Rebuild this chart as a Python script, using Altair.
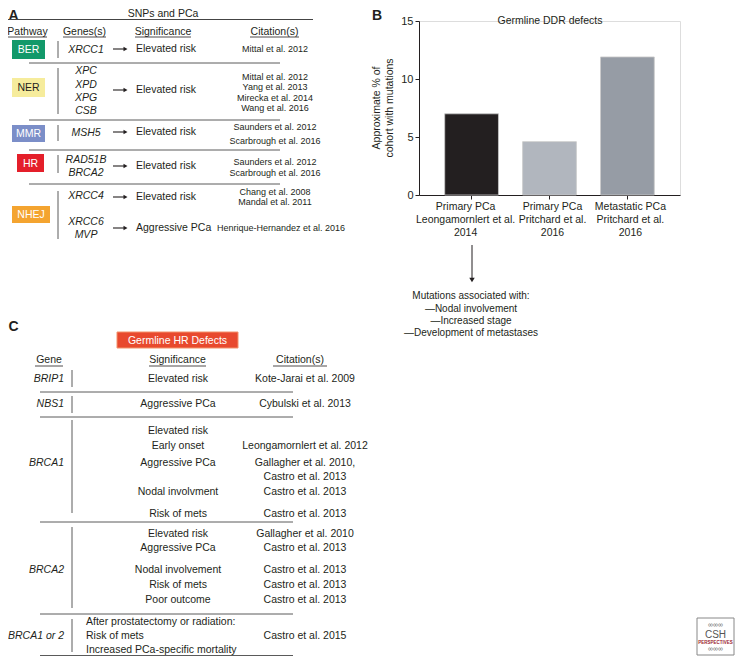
import altair as alt
import pandas as pd

FONT = "Liberation Sans"
INK = "#231f20"
LINE = "#5a5a5a"

# ---------------- data ----------------
# Panel B (bar chart)
bar_groups = ["Primary PCa|Leongamornlert et al.|2014",
              "Primary PCa|Pritchard et al.|2016",
              "Metastatic PCa|Pritchard et al.|2016"]
bar_values = [7.0, 4.6, 11.9]
bar_colors = ["#231f20", "#b1b6be", "#969ca5"]
y_ticks = [0, 5, 10, 15]
b_title = "Germline DDR defects"
b_ytitle = ["Approximate % of", "cohort with mutations"]
b_note = ["Mutations associated with:", "\u2014Nodal involvement",
          "\u2014Increased stage", "\u2014Development of metastases"]

# Panel A (table)
a_title = "SNPs and PCa"
a_headers = ["Pathway", "Genes(s)", "Significance", "Citation(s)"]
pathways = ["BER", "NER", "MMR", "HR", "NHEJ"]
pathway_fill = ["#12996a", "#f6ec9c", "#7b8ec8", "#e41f2a", "#f4a430"]
pathway_ink = ["#ffffff", INK, "#ffffff", "#ffffff", "#ffffff"]
genes_a = [["XRCC1"], ["XPC", "XPD", "XPG", "CSB"], ["MSH5"],
           ["RAD51B", "BRCA2"], ["XRCC4", "XRCC6", "MVP"]]
sig_a = [["Elevated risk"], ["Elevated risk"], ["Elevated risk"],
         ["Elevated risk"], ["Elevated risk", "Aggressive PCa"]]
cit_a = [["Mittal et al. 2012"],
         ["Mittal et al. 2012", "Yang et al. 2013", "Mirecka et al. 2014", "Wang et al. 2016"],
         ["Saunders et al. 2012", "Scarbrough et al. 2016"],
         ["Saunders et al. 2012", "Scarbrough et al. 2016"],
         ["Chang et al. 2008", "Mandal et al. 2011", "Henrique-Hernandez et al. 2016"]]

# Panel C (table)
c_title = "Germline HR Defects"
c_headers = ["Gene", "Significance", "Citation(s)"]
c_genes = ["BRIP1", "NBS1", "BRCA1", "BRCA2", "BRCA1 or 2"]
c_sig = [["Elevated risk"], ["Aggressive PCa"],
         ["Elevated risk", "Early onset", "Aggressive PCa", "Nodal involvment", "Risk of mets"],
         ["Elevated risk", "Aggressive PCa", "Nodal involvement", "Risk of mets", "Poor outcome"],
         ["After prostatectomy or radiation:", "Risk of mets", "Increased PCa-specific mortality"]]
c_cit = [["Kote-Jarai et al. 2009"], ["Cybulski et al. 2013"],
         ["Leongamornlert et al. 2012", "Gallagher et al. 2010,", "Castro et al. 2013",
          "Castro et al. 2013", "Castro et al. 2013"],
         ["Gallagher et al. 2010", "Castro et al. 2013", "Castro et al. 2013",
          "Castro et al. 2013", "Castro et al. 2013"],
         ["Castro et al. 2015"]]

# ---------------- layout (page pixels) ----------------
X0, Y0 = 419, 21          # top-left of the bar chart plot area on the page
PW, PH = 261, 174


def df_pts(rows):
    return pd.DataFrame([{**r, "x": r["x"] - X0, "y": r["y"] - Y0,
                          **({"x2": r["x2"] - X0} if "x2" in r else {}),
                          **({"y2": r["y2"] - Y0} if "y2" in r else {})} for r in rows])


def XQ(f="x"):
    return alt.X(f + ":Q", scale=None, axis=None)


def YQ(f="y"):
    return alt.Y(f + ":Q", scale=None, axis=None)


def text_layer(rows, size=10.5, align="center", style="normal", weight="normal",
               color=INK, angle=0, color_field=False):
    enc = dict(x=XQ(), y=YQ(), text="t:N")
    if color_field:
        enc["color"] = alt.Color("c:N", scale=None, legend=None)
    return alt.Chart(df_pts(rows)).mark_text(
        font=FONT, fontSize=size, align=align, baseline="middle",
        fontStyle=style, fontWeight=weight, color=color, angle=angle
    ).encode(**enc)


def hrules(rows, color=LINE, width=1.0):
    return alt.Chart(df_pts(rows)).mark_rule(color=color, strokeWidth=width).encode(
        x=XQ(), x2="x2:Q", y=YQ())


def vrules(rows, color=LINE, width=1.0):
    return alt.Chart(df_pts(rows)).mark_rule(color=color, strokeWidth=width).encode(
        x=XQ(), y=YQ(), y2="y2:Q")


def rects(rows, stroke=None, sw=0):
    kw = dict(strokeWidth=sw)
    if stroke:
        kw["stroke"] = stroke
    return alt.Chart(df_pts(rows)).mark_rect(**kw).encode(
        x=XQ(), x2="x2:Q", y=YQ(), y2="y2:Q",
        color=alt.Color("c:N", scale=None, legend=None))


def arrows(rows, shape, size):
    return alt.Chart(df_pts(rows)).mark_point(shape=shape, filled=True, size=size,
                                               color=INK, opacity=1).encode(x=XQ(), y=YQ())


layers = []

# ---------------- Panel B: bar chart ----------------
bars_df = pd.DataFrame({"group": bar_groups, "value": bar_values, "col": bar_colors})
bars = alt.Chart(bars_df).mark_bar(stroke="#c9c9c9", strokeWidth=0.8).encode(
    x=alt.X("group:N", sort=bar_groups,
            scale=alt.Scale(domain=bar_groups, paddingInner=0.31, paddingOuter=0.33),
            axis=alt.Axis(title=None, labelAngle=0, labelExpr="split(datum.label, '|')",
                          labelFontSize=10.5, labelLineHeight=13, labelColor=INK,
                          labelFont=FONT, labelPadding=2, tickSize=4, tickColor=INK,
                          domainColor=INK, labelBaseline="top",
                          labelOffset={"condition": {"test": "indexof(datum.value, 'Leong') >= 0",
                                                     "value": -6},
                                       "value": 3})),
    y=alt.Y("value:Q", scale=alt.Scale(domain=[0, 15], nice=False, zero=True),
            axis=alt.Axis(title=None, values=y_ticks, grid=False, labelFontSize=11,
                          labelColor=INK, labelFont=FONT, tickSize=4, tickColor=INK,
                          domainColor=INK, labelPadding=2)),
    color=alt.Color("col:N", scale=None, legend=None),
)
layers.append(bars)

layers.append(text_layer([{"t": b_title, "x": 550, "y": 21}], size=10.5))
layers.append(text_layer([{"t": b_ytitle[0], "x": 377, "y": 108},
                          {"t": b_ytitle[1], "x": 390, "y": 108}], size=10.5, angle=270))
layers.append(vrules([{"x": 472, "y": 245, "y2": 279}], color=INK))
layers.append(arrows([{"x": 472, "y": 280}], "triangle-down", 30))
layers.append(text_layer([{"t": t, "x": 471, "y": y} for t, y in
                          zip(b_note, [296, 309, 321, 333])], size=10))

# ---------------- Panel letters ----------------
layers.append(text_layer([{"t": "A", "x": 8.5, "y": 16}, {"t": "B", "x": 372, "y": 16},
                          {"t": "C", "x": 8.5, "y": 327}], size=14, align="left",
                         weight="bold"))

# ---------------- Panel A ----------------
layers.append(text_layer([{"t": a_title, "x": 163, "y": 14}], size=10.5))
layers.append(hrules([{"x": 8, "x2": 313, "y": 19.5}], color="#444"))
a_head_x = [(8, 47), (63, 106), (135, 191), (250, 299)]
layers.append(text_layer([{"t": t, "x": (a + b) / 2, "y": 31.5} for t, (a, b) in
                          zip(a_headers, a_head_x)], size=10.5))
layers.append(hrules([{"x": a, "x2": b, "y": 37} for a, b in a_head_x], color=INK, width=0.8))

a_badge = [(12, 45, 40, 59), (12, 45, 78, 97), (12, 45, 125, 142), (17, 44, 154, 172),
           (12, 50, 206, 223)]
layers.append(rects([{"x": a, "x2": b, "y": c, "y2": d, "c": f} for (a, b, c, d), f in
                     zip(a_badge, pathway_fill)]))
layers.append(text_layer([{"t": t, "x": (a + b) / 2, "y": (c + d) / 2 + 0.5, "c": k}
                          for t, (a, b, c, d), k in zip(pathways, a_badge, pathway_ink)],
                         size=10.5, color_field=True))

a_gene_y = [[50], [71, 85, 98, 111], [133], [160, 173], [196, 222, 235]]
a_sig_y = [[49], [90], [132], [166], [197, 228]]
a_cit_y = [[49], [77, 87, 98, 108], [127, 141], [162, 173], [192, 202, 228]]
a_vline = [(41, 58), (68, 114), (125, 141), (155, 173), (191, 239)]
a_hline = [63, 120, 150, 184]

gene_rows, sig_rows, cit_rows, arrow_lines, arrow_heads = [], [], [], [], []
for gs, gy, ss, sy, cs, cy in zip(genes_a, a_gene_y, sig_a, a_sig_y, cit_a, a_cit_y):
    gene_rows += [{"t": g, "x": 86, "y": y} for g, y in zip(gs, gy)]
    sig_rows += [{"t": s, "x": 136, "y": y} for s, y in zip(ss, sy)]
    arrow_lines += [{"x": 113, "x2": 125, "y": y} for y in sy]
    arrow_heads += [{"x": 125.5, "y": y} for y in sy]
    cit_rows += [{"t": c, "x": 281 if c.startswith("Henrique") else 275, "y": y}
                 for c, y in zip(cs, cy)]
layers.append(text_layer(gene_rows, size=10.5, style="italic"))
layers.append(text_layer(sig_rows, size=10.5, align="left"))
layers.append(text_layer(cit_rows, size=9))
layers.append(hrules(arrow_lines, color=INK, width=1.1))
layers.append(arrows(arrow_heads, "triangle-right", 22))
layers.append(vrules([{"x": 58, "y": a, "y2": b} for a, b in a_vline]))
layers.append(hrules([{"x": 29, "x2": 280, "y": y} for y in a_hline]))

# ---------------- Panel C ----------------
layers.append(rects([{"x": 117, "x2": 238, "y": 332, "y2": 348, "c": "#e8492e"}],
                    stroke="#f3926a", sw=1))
layers.append(text_layer([{"t": c_title, "x": 177.5, "y": 340.5}], size=10.5, color="#ffffff"))
c_head_x = [(35, 63), (149, 206), (273, 327)]
layers.append(text_layer([{"t": t, "x": (a + b) / 2, "y": 360} for t, (a, b) in
                          zip(c_headers, c_head_x)], size=10.5))
layers.append(hrules([{"x": a, "x2": b, "y": 366} for a, b in c_head_x], color=INK, width=0.8))

c_gene_y = [379, 404, 463, 570, 636]
c_sig_y = [[379], [404], [431, 446, 463, 492, 514], [534, 548, 570, 585, 600], [622, 636, 650]]
c_cit_y = [[379], [404], [446, 463, 477, 492, 514], [534, 548, 570, 585, 600], [636]]
c_vline = [(370, 387), (396, 413), (420, 513), (527, 608), (619, 652)]
c_hline = [392, 417, 522, 614, 655.5]

layers.append(text_layer([{"t": g, "x": 64, "y": y} for g, y in zip(c_genes, c_gene_y)],
                         size=10.5, style="italic", align="right"))
sig_c_center, sig_c_left, cit_c = [], [], []
for i, (ss, sy, cs, cy) in enumerate(zip(c_sig, c_sig_y, c_cit, c_cit_y)):
    if i == len(c_sig) - 1:
        sig_c_left += [{"t": s, "x": 86, "y": y} for s, y in zip(ss, sy)]
    else:
        sig_c_center += [{"t": s, "x": 178, "y": y} for s, y in zip(ss, sy)]
    cit_c += [{"t": c, "x": 305, "y": y} for c, y in zip(cs, cy)]
layers.append(text_layer(sig_c_center, size=10.5))
layers.append(text_layer(sig_c_left, size=10.5, align="left"))
layers.append(text_layer(cit_c, size=10.5))
layers.append(vrules([{"x": 72, "y": a, "y2": b} for a, b in c_vline]))
layers.append(hrules([{"x": 40, "x2": 293, "y": y} for y in c_hline]))

# ---------------- logo ----------------
layers.append(rects([{"x": 697, "x2": 734, "y": 618, "y2": 655, "c": "#ffffff"}],
                    stroke="#888888", sw=1))
layers.append(text_layer([{"t": "CSH", "x": 715.5, "y": 635}], size=10, color="#555555"))
layers.append(text_layer([{"t": "PERSPECTIVES", "x": 715.5, "y": 643}], size=4.5,
                         color="#9b1b30", weight="bold"))
layers.append(text_layer([{"t": "\u221e\u221e\u221e", "x": 715.5, "y": 625},
                          {"t": "\u221e\u221e\u221e", "x": 715.5, "y": 649}], size=7,
                         color="#666666"))

chart = alt.layer(*layers).properties(
    width=PW, height=PH,
    padding={"left": X0 - 8, "top": Y0 - 8, "right": 727 - (X0 - 8) - PW,
             "bottom": 648 - (Y0 - 8) - PH},
    autosize=alt.AutoSizeParams(type="none"),
).configure_view(stroke=None).configure(background="white")

chart.save("out.html", embed_options={"renderer": "svg", "actions": False})
